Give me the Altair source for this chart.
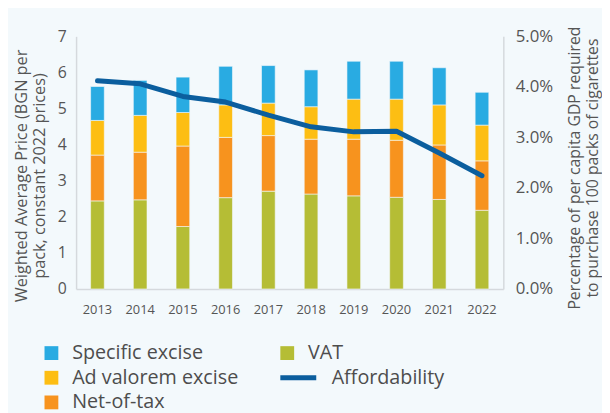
import altair as alt
import pandas as pd

years = [2013, 2014, 2015, 2016, 2017, 2018, 2019, 2020, 2021, 2022]
vat = [2.44, 2.47, 1.73, 2.53, 2.71, 2.63, 2.58, 2.54, 2.48, 2.18]
net_of_tax = [1.27, 1.32, 2.23, 1.67, 1.54, 1.52, 1.57, 1.58, 1.51, 1.37]
ad_valorem = [0.96, 1.02, 0.93, 0.90, 0.90, 0.90, 1.11, 1.14, 1.11, 0.99]
specific = [0.94, 0.97, 0.98, 1.07, 1.04, 1.02, 1.05, 1.05, 1.03, 0.91]
affordability_pct = [4.12, 4.06, 3.81, 3.70, 3.44, 3.21, 3.11, 3.12, 2.69, 2.24]

series_names = ["Specific excise", "Ad valorem excise", "Net-of-tax", "VAT", "Affordability"]
series_colors = ["#29ABE2", "#FDBE13", "#F7931E", "#B5BD35", "#0B5E9E"]
stack_layers = [("VAT", vat), ("Net-of-tax", net_of_tax),
                ("Ad valorem excise", ad_valorem), ("Specific excise", specific)]

rows = []
for i, yr in enumerate(years):
    for k, (name, vals) in enumerate(stack_layers):
        rows.append({"year": str(yr), "series": name, "value": vals[i], "order": k})
bars_df = pd.DataFrame(rows)
line_df = pd.DataFrame({
    "year": [str(y) for y in years],
    "series": ["Affordability"] * len(years),
    "share": [a / 100 for a in affordability_pct],
})

FONT = "Open Sans"
TXT = "#555555"
AXIS_LINE = "#D5D9DD"
LINE_BLUE = "#0B5E9E"

is_aff = "(datum && datum.value === 'Affordability')"
legend = alt.Legend(
    title=None,
    orient="none",
    legendX=-35,
    legendY=311,
    columns=2,
    columnPadding=32,
    rowPadding=5,
    labelLimit=300,
    symbolType=alt.ExprRef(expr=f"{is_aff} ? 'M-1,0H4.2' : 'square'"),
    symbolSize=196,
    symbolStrokeWidth=alt.ExprRef(expr=f"{is_aff} ? 5 : 0"),
    symbolStrokeColor=alt.ExprRef(expr=f"{is_aff} ? '{LINE_BLUE}' : 'transparent'"),
    labelFont=FONT,
    labelFontSize=20,
    labelColor="#4D4D4D",
    labelOffset=alt.ExprRef(expr=f"{is_aff} ? 35 : 11"),
)

color = alt.Color("series:N",
                  scale=alt.Scale(domain=series_names, range=series_colors),
                  legend=legend)

x = alt.X("year:N",
          scale=alt.Scale(paddingInner=0.68, paddingOuter=0.34),
          axis=alt.Axis(title=None, labelAngle=0, labelFont=FONT, labelFontSize=13,
                        labelColor=TXT, labelPadding=15, ticks=False,
                        domainColor=AXIS_LINE, domainWidth=1.5))

bars = alt.Chart(bars_df).mark_bar(stroke="#F3F9FC", strokeWidth=0.6).encode(
    x=x,
    y=alt.Y("value:Q", stack="zero",
            scale=alt.Scale(domain=[0, 7], nice=False),
            axis=alt.Axis(values=[0, 1, 2, 3, 4, 5, 6, 7], grid=False, ticks=False,
                          labelFont=FONT, labelFontSize=16, labelColor=TXT, labelPadding=10,
                          domainColor=AXIS_LINE, domainWidth=1.5,
                          title=["Weighted Average Price (BGN per", "pack, constant 2022 prices)"],
                          titleFont=FONT, titleFontSize=16.5, titleFontWeight="normal",
                          titleColor=TXT, titlePadding=10, titleY=141)),
    color=color,
    order=alt.Order("order:Q"),
)

line = alt.Chart(line_df).mark_line(strokeWidth=5, strokeCap="round", strokeJoin="round").encode(
    x=x,
    y=alt.Y("share:Q",
            scale=alt.Scale(domain=[0, 0.05], nice=False),
            axis=alt.Axis(orient="right", format=".1%",
                          values=[0, 0.01, 0.02, 0.03, 0.04, 0.05], grid=False, ticks=False,
                          labelFont=FONT, labelFontSize=17, labelColor=TXT, labelPadding=12,
                          domainColor=AXIS_LINE, domainWidth=1.5,
                          title=["Percentage of per capita GDP required",
                                 "to purchase 100 packs of cigarettes"],
                          titleAngle=270, titleY=133,
                          titleFont=FONT, titleFontSize=16, titleFontWeight="normal",
                          titleColor=TXT, titlePadding=12)),
    color=color,
)

chart = alt.layer(bars, line).resolve_scale(y="independent").properties(
    width=433,
    height=256,
    background="#F3F9FC",
    autosize=alt.AutoSizeParams(type="none"),
    padding={"left": 69, "top": 26, "right": 100, "bottom": 123},
).configure_view(stroke=None)

chart.save("out.html", embed_options={"renderer": "svg", "actions": False})
